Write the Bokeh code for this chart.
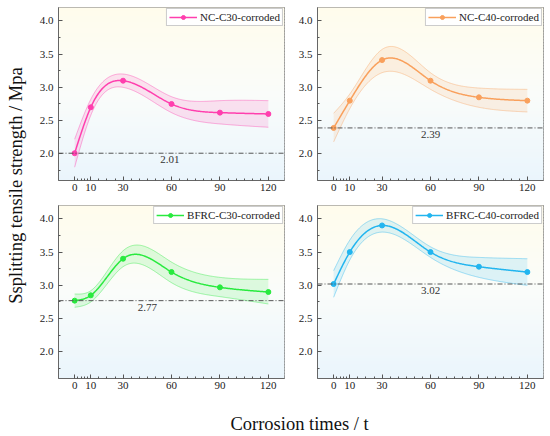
import numpy as np
from bokeh.plotting import figure
from bokeh.layouts import column, row
from bokeh.models import (Range1d, FixedTicker, NumeralTickFormatter, Span, Label,
                          Legend, LegendItem)
from bokeh.core.properties import value
from bokeh.embed import file_html
from bokeh.resources import INLINE

# ---------------- data ----------------
times = [0, 10, 30, 60, 90, 120]

nc_c30 = [2.01, 2.70, 3.10, 2.75, 2.62, 2.60]
nc_c30_upper = [2.22, 2.82, 3.20, 2.86, 2.80, 2.80]
nc_c30_lower = [1.80, 2.58, 3.00, 2.62, 2.45, 2.40]

nc_c40 = [2.39, 2.80, 3.41, 3.10, 2.85, 2.80]
nc_c40_upper = [2.61, 2.90, 3.57, 3.22, 2.99, 2.97]
nc_c40_lower = [2.18, 2.68, 3.22, 2.97, 2.70, 2.63]

bfrc_c30 = [2.77, 2.85, 3.40, 3.20, 2.97, 2.90]
bfrc_c30_upper = [2.87, 2.92, 3.52, 3.35, 3.12, 3.09]
bfrc_c30_lower = [2.67, 2.75, 3.28, 3.04, 2.83, 2.72]

bfrc_c40 = [3.02, 3.50, 3.90, 3.50, 3.28, 3.20]
bfrc_c40_upper = [3.22, 3.68, 4.00, 3.58, 3.42, 3.40]
bfrc_c40_lower = [2.82, 3.38, 3.80, 3.42, 3.12, 3.00]

baselines = [2.01, 2.39, 2.77, 3.02]
series_names = ["NC-C30-corroded", "NC-C40-corroded", "BFRC-C30-corroded", "BFRC-C40-corroded"]
x_ticks = [0, 10, 30, 60, 90, 120]
x_minor = [2, 4, 6, 8, 15, 20, 25, 35, 40, 45, 50, 55, 65, 70, 75, 80, 85, 95, 100, 105, 110, 115]
y_ticks = [2.0, 2.5, 3.0, 3.5, 4.0]
y_minor = [1.75, 2.25, 2.75, 3.25, 3.75]
y_title = "Ssplitting tensile strength / Mpa"
x_title = "Corrosion times / t"

FONT = "Liberation Serif"


def natural_spline(xk, yk, xq):
    xk = np.asarray(xk, float)
    yk = np.asarray(yk, float)
    n = len(xk)
    h = np.diff(xk)
    A = np.zeros((n, n))
    r = np.zeros(n)
    A[0, 0] = A[-1, -1] = 1.0
    for i in range(1, n - 1):
        A[i, i - 1] = h[i - 1]
        A[i, i] = 2 * (h[i - 1] + h[i])
        A[i, i + 1] = h[i]
        r[i] = 6 * ((yk[i + 1] - yk[i]) / h[i] - (yk[i] - yk[i - 1]) / h[i - 1])
    M = np.linalg.solve(A, r)
    idx = np.clip(np.searchsorted(xk, xq) - 1, 0, n - 2)
    x0 = xk[idx]
    x1 = xk[idx + 1]
    hh = x1 - x0
    a = (x1 - xq) / hh
    b = (xq - x0) / hh
    return a * yk[idx] + b * yk[idx + 1] + ((a ** 3 - a) * M[idx] + (b ** 3 - b) * M[idx + 1]) * hh ** 2 / 6


def grad_color(t):
    stops = [(0.0, (234, 245, 252)), (0.5, (250, 252, 250)), (1.0, (255, 252, 236))]
    for (t0, c0), (t1, c1) in zip(stops[:-1], stops[1:]):
        if t <= t1:
            f = (t - t0) / (t1 - t0)
            c = [int(round(c0[k] + (c1[k] - c0[k]) * f)) for k in range(3)]
            return "#%02x%02x%02x" % tuple(c)
    return "#%02x%02x%02x" % stops[-1][1]


def panel(name, vals, up, lo, base, color, label_x, left_b, right_b, top_b):
    xr = Range1d(-10, 130)
    yr = Range1d(1.6, 4.2)
    p = figure(frame_width=226, frame_height=173, x_range=xr, y_range=yr, title=None,
               output_backend="svg", toolbar_location=None,
               min_border_left=left_b, min_border_right=right_b,
               min_border_top=top_b, min_border_bottom=20)
    p.background_fill_color = "white"
    p.border_fill_color = "white"
    p.outline_line_color = "#777777"
    p.outline_line_width = 1
    p.xgrid.visible = False
    p.ygrid.visible = False

    # vertical background gradient
    nb = 60
    edges = np.linspace(yr.start, yr.end, nb + 1)
    step = edges[1] - edges[0]
    cols = [grad_color((e + step / 2 - yr.start) / (yr.end - yr.start)) for e in edges[:-1]]
    p.quad(left=xr.start, right=xr.end, bottom=edges[:-1], top=edges[:-1] + step * 1.6,
           fill_color=cols, line_color=None)

    xs = np.linspace(times[0], times[-1], 241)
    yu = natural_spline(times, up, xs)
    yl = natural_spline(times, lo, xs)
    ym = natural_spline(times, vals, xs)

    p.varea(x=xs, y1=yl, y2=yu, fill_color=color, fill_alpha=0.14)
    p.line(xs, yu, line_color=color, line_alpha=0.4, line_width=1)
    p.line(xs, yl, line_color=color, line_alpha=0.4, line_width=1)

    p.add_layout(Span(location=base, dimension="width", line_color="#555555",
                      line_width=1, line_dash="5 2 1 2"))
    p.add_layout(Label(x=label_x, y=base, text="%.2f" % base, text_align="center",
                       text_baseline="top", y_offset=-3, text_font=FONT,
                       text_font_size="11px", text_color="#333333"))

    curve = p.line(xs, ym, line_color=color, line_width=1.5)
    pts = p.scatter(times, vals, size=5, fill_color=color, line_color=color)

    leg = Legend(items=[LegendItem(label=name, renderers=[curve, pts])],
                 location="top_right", margin=1, padding=2, spacing=0,
                 glyph_width=28, glyph_height=10, label_height=10,
                 label_standoff=3, label_text_font=FONT,
                 label_text_font_size="11px", label_text_color="#222222",
                 border_line_color="#999999", border_line_width=1,
                 background_fill_color="white", background_fill_alpha=1.0)
    p.add_layout(leg)

    for ax, ticks, minor in ((p.xaxis[0], x_ticks, x_minor), (p.yaxis[0], y_ticks, y_minor)):
        ax.ticker = FixedTicker(ticks=ticks, minor_ticks=minor)
        ax.major_tick_in = 4
        ax.major_tick_out = 0
        ax.minor_tick_in = 2
        ax.minor_tick_out = 0
        ax.axis_line_color = "#666666"
        ax.major_tick_line_color = "#555555"
        ax.minor_tick_line_color = "#555555"
        ax.major_label_text_font = FONT
        ax.major_label_text_font_size = "11px"
        ax.major_label_text_color = "#222222"
    p.yaxis[0].formatter = NumeralTickFormatter(format="0.0")
    p.yaxis[0].major_label_standoff = 5
    p.xaxis[0].major_label_standoff = 3
    return p


colors = ["#ff3fae", "#f9a05c", "#28ea3e", "#22b5ef"]
vals_all = [nc_c30, nc_c40, bfrc_c30, bfrc_c40]
ups = [nc_c30_upper, nc_c40_upper, bfrc_c30_upper, bfrc_c40_upper]
los = [nc_c30_lower, nc_c40_lower, bfrc_c30_lower, bfrc_c40_lower]
label_xs = [59, 60, 45, 60]
lefts = [28, 27, 28, 27]
rights = [6, 7, 6, 7]
tops = [7, 7, 5, 5]

panels = [panel(series_names[i], vals_all[i], ups[i], los[i], baselines[i], colors[i],
                label_xs[i], lefts[i], rights[i], tops[i]) for i in range(4)]

# y-axis title (spans both rows)
YH = 398
ylab = figure(width=30, height=YH, x_range=Range1d(0, 30), y_range=Range1d(0, YH),
              x_axis_type=None, y_axis_type=None, output_backend="svg", title=None,
              toolbar_location=None, min_border=0)
ylab.outline_line_color = None
ylab.border_fill_color = "white"
ylab.xgrid.visible = False
ylab.ygrid.visible = False
ylab.text(x=[15], y=[YH - 185], text=[y_title], angle=np.pi / 2,
          text_align="center", text_baseline="middle", text_font=value(FONT),
          text_font_size="18.5px", text_color="#111111")

# x-axis title
XH = 38
xlab = figure(width=550, height=XH, x_range=Range1d(0, 550), y_range=Range1d(0, XH),
              x_axis_type=None, y_axis_type=None, output_backend="svg", title=None,
              toolbar_location=None, min_border=0)
xlab.outline_line_color = None
xlab.border_fill_color = "white"
xlab.xgrid.visible = False
xlab.ygrid.visible = False
xlab.text(x=[299], y=[13], text=[x_title], text_align="center",
          text_baseline="middle", text_font=value(FONT), text_font_size="18.5px",
          text_color="#111111")

grid = column(row(panels[0], panels[1]), row(panels[2], panels[3]))
layout = column(row(ylab, grid), xlab)

open("out.html", "w").write(file_html(layout, INLINE))
